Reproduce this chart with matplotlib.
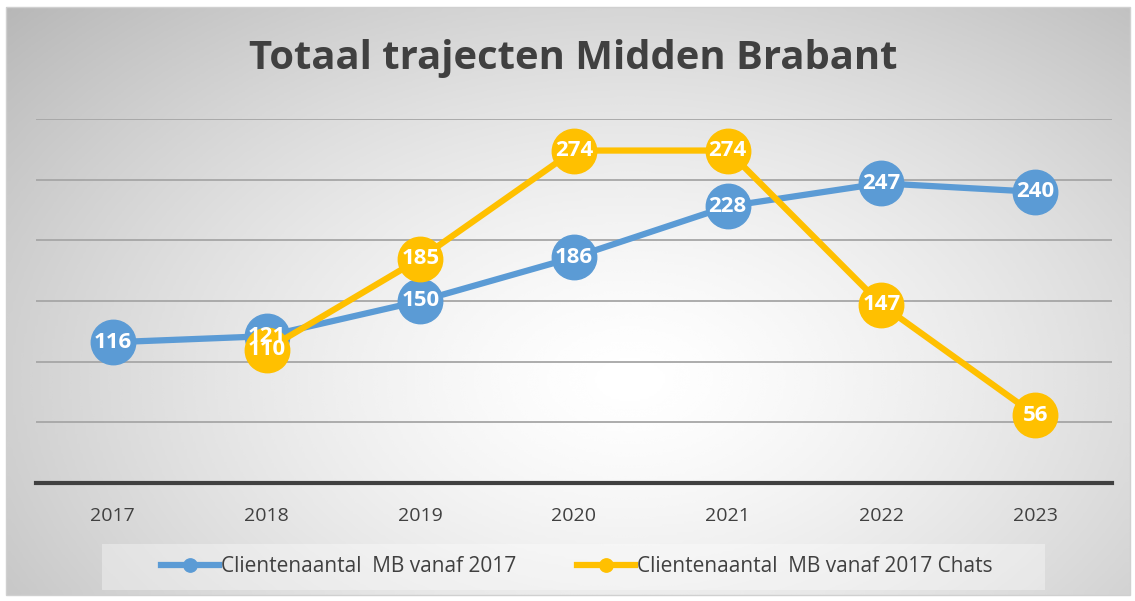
import numpy as np
import matplotlib.pyplot as plt
from matplotlib.patches import Rectangle

# chart data
years = ['2017', '2018', '2019', '2020', '2021', '2022', '2023']
clienten = [116, 121, 150, 186, 228, 247, 240]
chats = [None, 110, 185, 274, 274, 147, 56]

blue = '#5B9BD5'
yellow = '#FFC000'
font = 'Open Sans'

W, H = 1135, 601
fig = plt.figure(figsize=(W / 100, H / 100), dpi=100)
fig.patch.set_facecolor('white')

# radial grey background of the chart area
bx0, by0, bx1, by1 = 6, 7, 1130, 595
bg = fig.add_axes([bx0 / W, 1 - by1 / H, (bx1 - bx0) / W, (by1 - by0) / H])
gx, gy = np.meshgrid(np.linspace(bx0, bx1, 400), np.linspace(by0, by1, 220))
r = np.sqrt(((gx - 630) / 800) ** 2 + ((gy - 380) / 520) ** 2)
shade = 1 - 0.26 * np.clip(r, 0, 1.3) ** 1.4
bg.imshow(shade, cmap='gray', vmin=0, vmax=1, aspect='auto',
          extent=[0, 1, 0, 1], interpolation='bicubic')
bg.set_axis_off()
fig.add_artist(Rectangle((bx0 / W, 1 - by1 / H), (bx1 - bx0) / W, (by1 - by0) / H,
                         transform=fig.transFigure, fill=False,
                         edgecolor='#d0d0d0', lw=1))

# main plot area
ax = fig.add_axes([36 / W, 118 / H, 1076 / W, 364 / H])
ax.set_facecolor('none')
x = np.arange(len(years))
ax.set_xlim(-0.5, len(years) - 0.5)
ax.set_ylim(0, 300)
ax.set_yticks(range(50, 301, 50))
ax.yaxis.grid(True, color='#a6a6a6', lw=1.3)
ax.tick_params(axis='y', left=False, labelleft=False)
ax.tick_params(axis='x', bottom=False, pad=14, labelsize=14, labelcolor='#404040')
ax.set_xticks(x)
ax.set_xticklabels(years, fontfamily=font)
for s in ['top', 'left', 'right']:
    ax.spines[s].set_visible(False)
ax.spines['bottom'].set_color('#404040')
ax.spines['bottom'].set_linewidth(3)

cy = np.array([np.nan if v is None else v for v in chats], dtype=float)
ax.plot(x, clienten, color=blue, lw=4.5, marker='o', ms=32, zorder=3,
        label='Clientenaantal  MB vanaf 2017')
ax.plot(x, cy, color=yellow, lw=4.5, marker='o', ms=32, zorder=4,
        label='Clientenaantal  MB vanaf 2017 Chats')

for xi, v in zip(x, clienten):
    ax.text(xi, v, str(v), ha='center', va='center', color='white',
            fontsize=16, fontweight='bold', fontfamily=font, zorder=6)
for xi, v in zip(x, chats):
    if v is not None:
        ax.text(xi, v, str(v), ha='center', va='center', color='white',
                fontsize=16, fontweight='bold', fontfamily=font, zorder=6)

fig.text(573 / W, 1 - 59 / H, 'Totaal trajecten Midden Brabant', ha='center',
         va='center', fontsize=28.8, fontweight='bold', color='#404040',
         fontfamily=font)

# legend
fig.add_artist(Rectangle((102 / W, 1 - 590 / H), (1045 - 102) / W, 46 / H,
                         transform=fig.transFigure, facecolor='white',
                         alpha=0.35, edgecolor='none'))
handles, labels = ax.get_legend_handles_labels()
leg = fig.legend(handles, labels, loc='center', bbox_to_anchor=(577 / W, 1 - 567 / H),
                 ncol=2, frameon=False, markerscale=0.3,
                 handlelength=2.8, handletextpad=0.1, columnspacing=2.9,
                 prop={'family': font, 'size': 15})
for t in leg.get_texts():
    t.set_color('#404040')

fig.savefig('out.png', dpi=100)
